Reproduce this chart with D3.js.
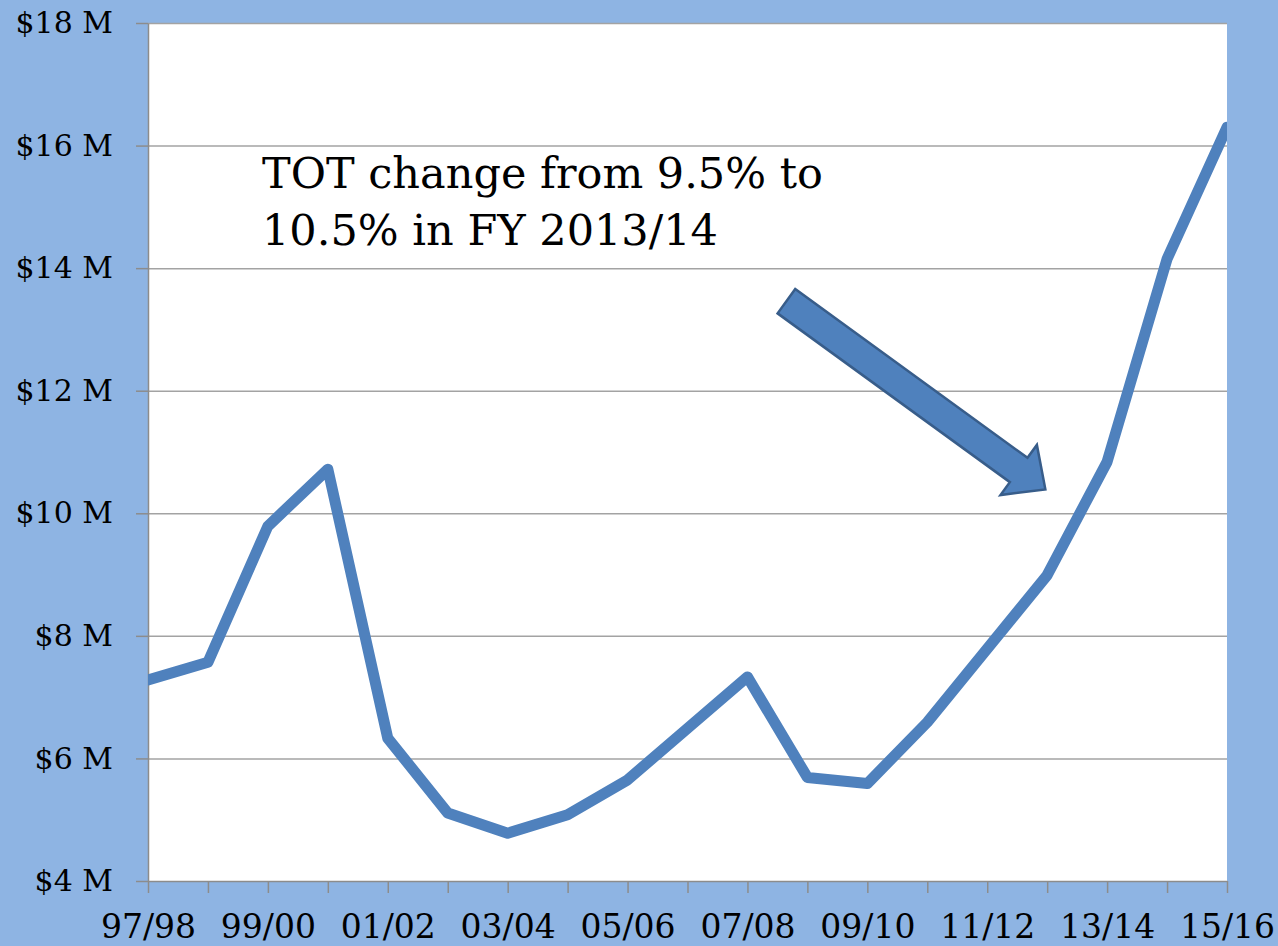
<!DOCTYPE html>
<html>
<head>
<meta charset="utf-8">
<script src="https://cdn.jsdelivr.net/npm/d3@7"></script>
<style>
  body { margin: 0; background: #8eb4e3; }
  svg { display: block; }
  .axis text { font-family: "DejaVu Serif", serif; fill: #000; }
  .axis path, .axis line { stroke: #8c8c8c; }
  .grid line { stroke: #a3a3a3; stroke-width: 1.5; }
</style>
</head>
<body>
<svg id="chart"></svg>
<script>
{
    const W = 1278, H = 946;
    const margin = {top: 23, right: 51, bottom: 65, left: 148};

    // fiscal years and TOT revenue ($ millions)
    const categories = ["97/98", "98/99", "99/00", "00/01", "01/02", "02/03", "03/04",
        "04/05", "05/06", "06/07", "07/08", "08/09", "09/10", "10/11", "11/12",
        "12/13", "13/14", "14/15", "15/16"];
    const revenue = [7.28, 7.57, 9.79, 10.72, 6.33, 5.11, 4.78, 5.08, 5.65, 6.49,
        7.33, 5.69, 5.59, 6.59, 7.79, 8.99, 10.84, 14.15, 16.30];
    const yTicks = [4, 6, 8, 10, 12, 14, 16, 18];
    const noteLines = ["TOT change from 9.5% to", "10.5% in FY 2013/14"];
    // arrow from (category index, $M) to (category index, $M)
    const arrowFrom = [10.65, 13.46], arrowTo = [14.97, 10.39];

    const svg = d3.select("#chart").attr("width", W).attr("height", H);

    const x = d3.scalePoint().domain(categories).range([margin.left, W - margin.right]);
    const y = d3.scaleLinear().domain([4, 18]).range([H - margin.bottom, margin.top]);
    const xi = d3.scaleLinear().domain([0, categories.length - 1]).range(x.range());

    svg.append("rect")
        .attr("x", margin.left).attr("y", margin.top)
        .attr("width", x.range()[1] - margin.left)
        .attr("height", y(4) - margin.top)
        .attr("fill", "#fff");

    svg.append("clipPath").attr("id", "plot")
        .append("rect")
        .attr("x", margin.left).attr("y", 0)
        .attr("width", x.range()[1] - margin.left)
        .attr("height", H);

    // gridlines
    svg.append("g")
        .attr("class", "grid")
        .attr("transform", `translate(${margin.left},0)`)
        .call(d3.axisLeft(y).tickValues(yTicks.slice(1)).tickFormat("")
            .tickSize(-(x.range()[1] - margin.left)).tickSizeOuter(0))
        .call(g => g.select(".domain").remove());

    svg.append("g")
        .attr("class", "y axis")
        .attr("transform", `translate(${margin.left},0)`)
        .call(d3.axisLeft(y).tickValues(yTicks).tickFormat(d => `$${d} M`)
            .tickSize(12).tickSizeOuter(0).tickPadding(23))
        .call(g => g.selectAll("text").attr("font-size", 30))
        .call(g => g.selectAll("line, path").attr("stroke-width", 1.5));

    svg.append("g")
        .attr("class", "x axis")
        .attr("transform", `translate(0,${y(4)})`)
        .call(d3.axisBottom(x).tickFormat((d, i) => i % 2 === 0 ? d : "")
            .tickSize(12).tickSizeOuter(0).tickPadding(22))
        .call(g => g.selectAll("text").attr("font-size", 33))
        .call(g => g.selectAll("line, path").attr("stroke-width", 1.5));

    svg.append("path")
        .datum(revenue)
        .attr("clip-path", "url(#plot)")
        .attr("fill", "none")
        .attr("stroke", "#4f81bd")
        .attr("stroke-width", 11)
        .attr("stroke-linejoin", "round")
        .attr("stroke-linecap", "round")
        .attr("d", d3.line()
            .x((d, i) => x(categories[i]))
            .y(d => y(d)));

    // block arrow
    const p0 = [xi(arrowFrom[0]), y(arrowFrom[1])], p1 = [xi(arrowTo[0]), y(arrowTo[1])];
    const len = Math.hypot(p1[0] - p0[0], p1[1] - p0[1]);
    const u = [(p1[0] - p0[0]) / len, (p1[1] - p0[1]) / len], n = [-u[1], u[0]];
    const shaft = 15, head = 31, headLen = 33;
    const b = [p1[0] - u[0] * headLen, p1[1] - u[1] * headLen];
    const pt = (p, k) => [p[0] + n[0] * k, p[1] + n[1] * k];
    svg.append("path")
        .attr("fill", "#4f81bd")
        .attr("stroke", "#385d8a")
        .attr("stroke-width", 2.5)
        .attr("stroke-linejoin", "miter")
        .attr("d", d3.line()([pt(p0, shaft), pt(b, shaft), pt(b, head), p1,
            pt(b, -head), pt(b, -shaft), pt(p0, -shaft)]) + "Z");

    svg.append("text")
        .attr("x", 262)
        .attr("y", 188)
        .attr("font-family", "\"DejaVu Serif\", serif")
        .attr("font-size", 43)
        .selectAll("tspan")
        .data(noteLines)
        .join("tspan")
            .attr("x", 262)
            .attr("dy", (d, i) => i === 0 ? 0 : 57)
            .text(d => d);
}
</script>
</body>
</html>
